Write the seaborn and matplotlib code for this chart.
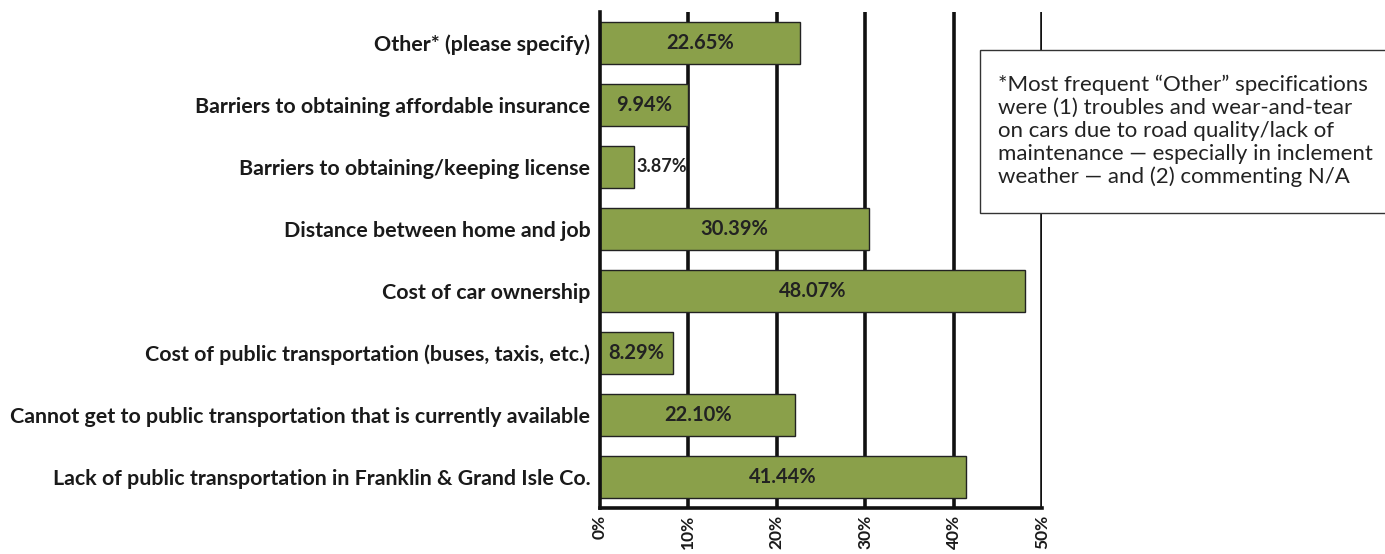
import matplotlib
matplotlib.use("Agg")
import matplotlib.pyplot as plt
import seaborn as sns
import pandas as pd
from matplotlib.ticker import FuncFormatter
from matplotlib.patches import Rectangle

categories = [
    "Other* (please specify)",
    "Barriers to obtaining affordable insurance",
    "Barriers to obtaining/keeping license",
    "Distance between home and job",
    "Cost of car ownership",
    "Cost of public transportation (buses, taxis, etc.)",
    "Cannot get to public transportation that is currently available",
    "Lack of public transportation in Franklin & Grand Isle Co.",
]
values = [22.65, 9.94, 3.87, 30.39, 48.07, 8.29, 22.10, 41.44]
xticks = [0, 10, 20, 30, 40, 50]
note = ("*Most frequent \u201cOther\u201d specifications\n"
        "were (1) troubles and wear-and-tear\n"
        "on cars due to road quality/lack of\n"
        "maintenance \u2014 especially in inclement\n"
        "weather \u2014 and (2) commenting N/A")

df = pd.DataFrame({"category": categories, "value": values})

sns.set_style("white")
plt.rcParams["font.family"] = ["Lato", "DejaVu Sans"]

W, H = 1385, 554
fig = plt.figure(figsize=(13.85, 5.54), dpi=100)
ax = fig.add_axes([600/W, 1-508/H, 442/W, 496/H])

for x in xticks[1:]:
    ax.axvline(x, color="#111111", lw=2.6, zorder=0)

sns.barplot(data=df, x="value", y="category", orient="h", color="#8aa04a",
            saturation=1, width=0.69, edgecolor="#222222", linewidth=1.0,
            ax=ax, zorder=2)

for i, v in enumerate(values):
    if v < 5:
        ax.text(v + 0.3, i, f"{v:.2f}%", ha="left", va="center",
                fontsize=13, fontweight="bold", color="#222222", zorder=3)
    else:
        ax.text(v / 2, i, f"{v:.2f}%", ha="center", va="center",
                fontsize=14.5, fontweight="bold", color="#222222", zorder=3)

ax.set_xlim(0, 50)
ax.set_ylim(7.5, -0.5)
ax.set_xticks(xticks)
ax.xaxis.set_major_formatter(FuncFormatter(lambda x, p: f"{x:.0f}%"))
ax.tick_params(axis="x", rotation=90, labelsize=12.5, length=0, pad=5)
ax.tick_params(axis="y", labelsize=15.4, length=0, pad=7)
for lab in ax.get_xticklabels() + ax.get_yticklabels():
    lab.set_fontweight("bold")
    lab.set_color("#1a1a1a")
ax.set_xlabel("")
ax.set_ylabel("")

for s in ["top", "right"]:
    ax.spines[s].set_visible(False)
for s in ["left", "bottom"]:
    ax.spines[s].set_color("#111111")
    ax.spines[s].set_linewidth(2.6)

box = Rectangle((980/W, 1-213/H), 420/W, 163/H, transform=fig.transFigure,
                facecolor="white", edgecolor="#333333", linewidth=1.0,
                clip_on=False, zorder=5)
fig.patches.append(box)
fig.text(998/W, 1-131/H, note, ha="left", va="center", fontsize=16,
         color="#222222", linespacing=1.18, zorder=6)

fig.savefig("out.png", dpi=100)
